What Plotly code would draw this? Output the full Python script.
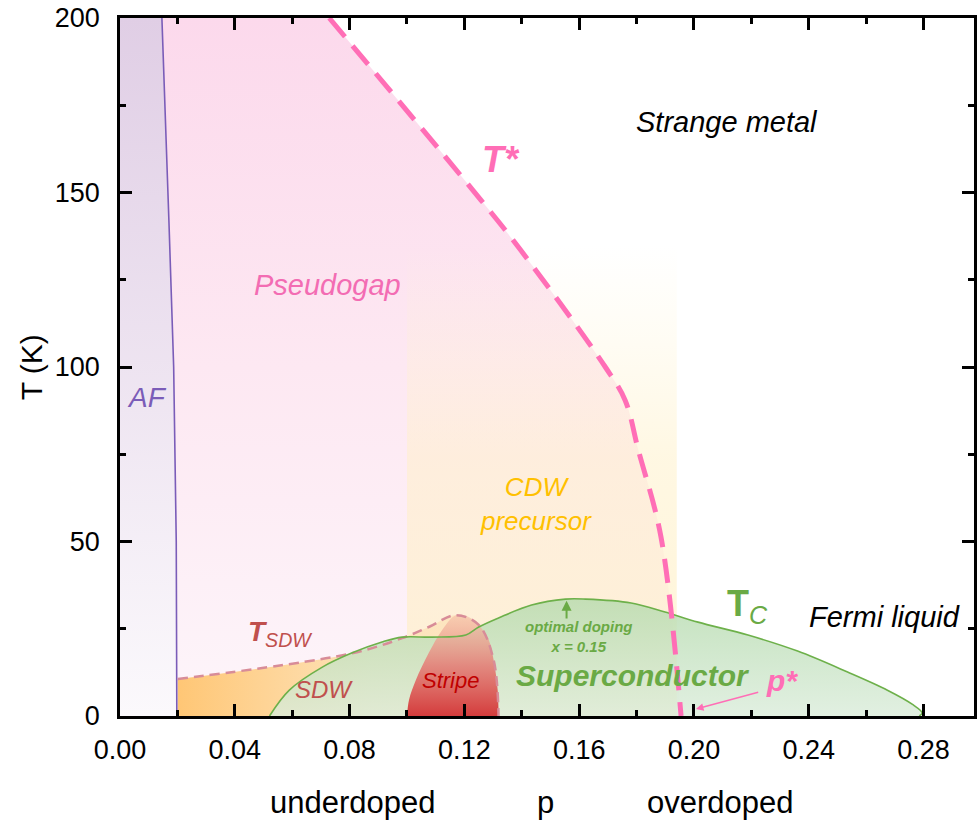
import plotly.graph_objects as go

# ---------------- data ----------------
af_p = [0.0146, 0.0167, 0.0187, 0.0196, 0.0198]
af_T = [200, 150, 100, 50, 0]

tstar_p = [0.0729, 0.1257, 0.1396, 0.1691, 0.1760, 0.1806, 0.1885, 0.1955]
tstar_T = [200, 147.9, 133.5, 100.0, 90.5, 76.2, 51.3, 0]

tsdw_p = [0.0201, 0.0799, 0.0983, 0.1076, 0.1170, 0.1250, 0.1302, 0.1319]
tsdw_T = [10.6, 17.8, 22.3, 25.5, 28.9, 26.1, 16.0, 0]

stripe_p = [0.1000, 0.1007, 0.1031, 0.1076, 0.1122, 0.1170, 0.1215, 0.1250, 0.1285, 0.1302, 0.1316, 0.1319]
stripe_T = [0, 4.6, 10.3, 18.1, 24.6, 28.9, 28.4, 26.1, 21.8, 16.0, 7.4, 0]

tc_p = [0.0521, 0.0590, 0.0705, 0.0809, 0.0913, 0.0983, 0.1087, 0.1205, 0.1250, 0.1319,
        0.1434, 0.1552, 0.1622, 0.1781, 0.1899, 0.2014, 0.2188, 0.2361, 0.2535, 0.2674,
        0.2760, 0.2795, 0.2785]
tc_T = [0, 7.4, 14.0, 18.1, 21.2, 22.6, 22.6, 23.2, 25.5, 28.1,
        31.8, 33.5, 33.5, 32.4, 29.8, 26.9, 23.2, 18.6, 12.6, 7.4,
        3.4, 0.9, 0]

cdw_p = [0.100, 0.194]
cdw_T = [0, 135]

x_ticks = [0.00, 0.04, 0.08, 0.12, 0.16, 0.20, 0.24, 0.28]
y_ticks = [0, 50, 100, 150, 200]

FONT = "Liberation Sans, Arial, sans-serif"
PINK = "#ff6eb6"
GREEN = "#6aaa45"
SDWC = "#c0504d"

fig = go.Figure()

# ---- fills ----
fig.add_trace(go.Scatter(
    x=af_p, y=af_T, mode="lines", line=dict(width=0, shape="spline"),
    fill="tozerox",
    fillgradient=dict(type="vertical", start=0, stop=200,
                      colorscale=[[0, "#fbf9fc"], [1, "#e0cee5"]]),
    hoverinfo="skip", showlegend=False))

fig.add_trace(go.Scatter(
    x=tstar_p, y=tstar_T, mode="lines", line=dict(width=0, shape="spline"),
    fill="tonextx",
    fillgradient=dict(type="vertical", start=0, stop=200,
                      colorscale=[[0, "#fdf5fa"], [0.5, "#fde8f2"], [1, "#fcd9ec"]]),
    hoverinfo="skip", showlegend=False))

fig.add_trace(go.Scatter(
    x=[cdw_p[0], cdw_p[1], cdw_p[1], cdw_p[0], cdw_p[0]],
    y=[cdw_T[0], cdw_T[0], cdw_T[1], cdw_T[1], cdw_T[0]],
    mode="lines", line=dict(width=0), fill="toself",
    fillgradient=dict(type="vertical", start=cdw_T[0], stop=cdw_T[1],
                      colorscale=[[0, "rgba(255,238,192,0.65)"], [0.55, "rgba(255,240,198,0.5)"],
                                  [1, "rgba(255,244,210,0)"]]),
    hoverinfo="skip", showlegend=False))

fig.add_trace(go.Scatter(
    x=tsdw_p, y=tsdw_T, mode="lines", line=dict(width=0, shape="spline"),
    fill="tozeroy",
    fillgradient=dict(type="horizontal", start=0.02, stop=0.132,
                      colorscale=[[0, "rgba(255,196,110,0.95)"], [0.6, "rgba(253,225,180,0.9)"],
                                  [1, "rgba(252,230,195,0.9)"]]),
    hoverinfo="skip", showlegend=False))

fig.add_trace(go.Scatter(
    x=tc_p, y=tc_T, mode="lines", line=dict(width=0, shape="spline"),
    fill="toself",
    fillgradient=dict(type="vertical", start=0, stop=34,
                      colorscale=[[0, "rgba(218,236,218,0.8)"], [1, "rgba(180,218,172,0.8)"]]),
    hoverinfo="skip", showlegend=False))

fig.add_trace(go.Scatter(
    x=stripe_p, y=stripe_T, mode="lines", line=dict(width=0, shape="spline"),
    fill="toself",
    fillgradient=dict(type="vertical", start=0, stop=29,
                      colorscale=[[0, "rgba(212,60,60,1)"], [0.5, "rgba(228,125,118,0.88)"],
                                  [1, "rgba(245,192,168,0.65)"]]),
    hoverinfo="skip", showlegend=False))

# ---- lines ----
fig.add_trace(go.Scatter(x=af_p, y=af_T, mode="lines",
                         line=dict(color="#7a5cb8", width=1.6, shape="spline"),
                         hoverinfo="skip", showlegend=False))
fig.add_trace(go.Scatter(x=tsdw_p, y=tsdw_T, mode="lines",
                         line=dict(color="#d88c98", width=2.5, dash="10px,6px", shape="spline"),
                         hoverinfo="skip", showlegend=False))
fig.add_trace(go.Scatter(x=tc_p, y=tc_T, mode="lines",
                         line=dict(color="#6db04a", width=1.6, shape="spline"),
                         hoverinfo="skip", showlegend=False))
fig.add_trace(go.Scatter(x=tstar_p, y=tstar_T, mode="lines",
                         line=dict(color=PINK, width=5, dash="24px,12px", shape="spline"),
                         hoverinfo="skip", showlegend=False))

# ---- labels ----
def lab(x, y, text, size, color, **kw):
    fig.add_annotation(x=x, y=y, xref="x", yref="y", text=text, showarrow=False,
                       xanchor="center", yanchor="middle",
                       font=dict(family=FONT, size=size, color=color), **kw)

lab(0.0094, 91.4, "<i>AF</i>", 28, "#7b5cb8")
lab(0.0722, 123.5, "<i>Pseudogap</i>", 29, "#f36cb3")
lab(0.1326, 159.6, "<b><i>T*</i></b>", 36, PINK)
lab(0.2115, 170.2, "<i>Strange metal</i>", 29, "black")
lab(0.1448, 60.7, "<i>CDW<br>precursor</i>", 26, "#ffc000")
lab(0.2663, 28.4, "<i>Fermi liquid</i>", 29, "black")
lab(0.0560, 23.5, "<b><i>T</i></b><sub><i>SDW</i></sub>", 28, SDWC)
lab(0.0712, 7.7, "<i>SDW</i>", 24, SDWC)
lab(0.1153, 10.3, "<i>Stripe</i>", 22, "#c00000")
lab(0.1788, 11.5, "<b><i>Superconductor</i></b>", 30, GREEN)
lab(0.1597, 22.9, "<b><i>optimal doping<br>x = 0.15</i></b>", 15, GREEN)
lab(0.2185, 31.5, "<b>T</b><sub><i>C</i></sub>", 36, GREEN)
lab(0.2305, 10.3, "<b><i>p*</i></b>", 30, PINK)

# arrows
fig.add_annotation(x=0.1556, y=33.0, ax=0.1556, ay=27.5, xref="x", yref="y", axref="x", ayref="y",
                   text="", showarrow=True, arrowhead=2, arrowsize=1, arrowwidth=2, arrowcolor=GREEN)
fig.add_annotation(x=0.2007, y=2.0, ax=0.2229, ay=6.9, xref="x", yref="y", axref="x", ayref="y",
                   text="", showarrow=True, arrowhead=2, arrowsize=1, arrowwidth=1.5, arrowcolor=PINK)

# axis titles
PLOT_W = 857
fig.add_annotation(x=(31 - 120) / PLOT_W, y=0.5, xref="paper", yref="paper", text="T (K)",
                   textangle=-90, xanchor="center", yanchor="middle",
                   showarrow=False, font=dict(family=FONT, size=30, color="black"))
for xp, t in [(354, "underdoped"), (547, "p"), (723, "overdoped")]:
    fig.add_annotation(x=(xp - 120) / PLOT_W, y=-0.1246, xref="paper", yref="paper", text=t,
                       showarrow=False, xanchor="center", yanchor="middle",
                       font=dict(family=FONT, size=31, color="black"))

axis_common = dict(showline=True, linewidth=2.5, linecolor="black", mirror="ticks",
                   ticks="inside", ticklen=12, tickwidth=2.5, tickcolor="black",
                   showgrid=False, zeroline=False, ticklabeloverflow="allow",
                   tickfont=dict(family=FONT, size=27, color="black"))

fig.update_layout(
    width=977, height=825,
    margin=dict(l=120, r=0, t=18, b=109),
    paper_bgcolor="white", plot_bgcolor="white",
    xaxis=dict(range=[0, PLOT_W / 2880], tickvals=x_ticks, ticktext=[f"{v:.2f}" for v in x_ticks],
               minor=dict(dtick=0.02, tick0=0, ticks="inside", ticklen=6, tickwidth=2.5,
                          tickcolor="black"),
               ticklabelstandoff=8, **axis_common),
    yaxis=dict(range=[0, 200], tickvals=y_ticks,
               minor=dict(dtick=25, tick0=0, ticks="inside", ticklen=6, tickwidth=2.5,
                          tickcolor="black"),
               ticklabelstandoff=12, **axis_common),
)

fig.write_html("out.html", config={"displayModeBar": False},
               post_script="document.body.style.margin='0px';")
